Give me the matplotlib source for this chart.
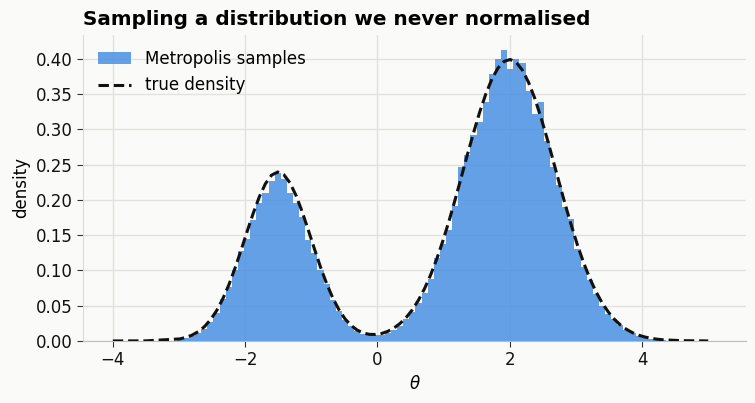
import numpy as np
import matplotlib.pyplot as plt
from matplotlib.patches import Patch
from matplotlib.lines import Line2D

# histogram of the Metropolis samples (density per bin)
hist_start = -3.034
bin_width = 0.0925
hist_heights = [
    0.002, 0.004, 0.007, 0.011, 0.017, 0.027, 0.040, 0.060, 0.076, 0.100,
    0.128, 0.145, 0.172, 0.195, 0.210, 0.227, 0.238, 0.229, 0.210, 0.195,
    0.176, 0.143, 0.124, 0.100, 0.080, 0.058, 0.043, 0.030, 0.021, 0.014,
    0.010, 0.008, 0.008, 0.009, 0.011, 0.015, 0.021, 0.031, 0.041, 0.054,
    0.068, 0.088, 0.117, 0.138, 0.157, 0.191, 0.247, 0.263, 0.292, 0.310,
    0.339, 0.378, 0.399, 0.413, 0.386, 0.400, 0.394, 0.354, 0.322, 0.338,
    0.284, 0.246, 0.221, 0.190, 0.173, 0.131, 0.105, 0.086, 0.066, 0.049,
    0.038, 0.031, 0.023, 0.016, 0.011, 0.007, 0.005, 0.003, 0.002, 0.001,
]

# true density, sampled at the bin centres plus the flat tails
dens_tail_left_x = [-4.0, -3.5]
dens_tail_left_y = [0.0000, 0.0001]
dens_mid_y = [
    0.0029, 0.0050, 0.0082, 0.0131, 0.0200, 0.0298, 0.0426, 0.0592, 0.0791, 0.1025,
    0.1282, 0.1551, 0.1809, 0.2043, 0.2229, 0.2350, 0.2394, 0.2356, 0.2242, 0.2060,
    0.1831, 0.1571, 0.1305, 0.1045, 0.0812, 0.0609, 0.0444, 0.0313, 0.0219, 0.0153,
    0.0112, 0.0093, 0.0092, 0.0106, 0.0136, 0.0183, 0.0248, 0.0333, 0.0441, 0.0578,
    0.0742, 0.0938, 0.1163, 0.1420, 0.1701, 0.2005, 0.2320, 0.2640, 0.2949, 0.3241,
    0.3498, 0.3711, 0.3868, 0.3962, 0.3989, 0.3945, 0.3836, 0.3663, 0.3440, 0.3172,
    0.2877, 0.2561, 0.2243, 0.1928, 0.1632, 0.1354, 0.1107, 0.0887, 0.0700, 0.0541,
    0.0413, 0.0308, 0.0227, 0.0164, 0.0116, 0.0081, 0.0056, 0.0037, 0.0025, 0.0016,
]
dens_tail_right_x = [4.6, 5.0]
dens_tail_right_y = [0.0004, 0.0000]

bg = '#fafaf8'
bar_color = '#4a90e2'

edges = hist_start + bin_width * np.arange(len(hist_heights) + 1)
centres = edges[:-1] + bin_width / 2
dens_x = np.concatenate([dens_tail_left_x, centres, dens_tail_right_x])
dens_y = np.concatenate([dens_tail_left_y, dens_mid_y, dens_tail_right_y])

fig = plt.figure(figsize=(7.55, 4.03), dpi=100, facecolor=bg)
ax = fig.add_axes([0.110, 0.154, 0.878, 0.759], facecolor=bg)

ax.bar(edges[:-1], hist_heights, width=bin_width, align='edge',
       color=bar_color, alpha=0.85, linewidth=0, zorder=2)
ax.plot(dens_x, dens_y, color='#111111', lw=2.2, ls=(0, (3.4, 1.6)), zorder=3)

ax.set_xlim(-4.45, 5.57)
ax.set_ylim(0, 0.4335)
ax.set_xticks([-4, -2, 0, 2, 4])
ax.set_xticklabels(['\u22124', '\u22122', '0', '2', '4'])
ax.set_yticks(np.arange(0, 0.41, 0.05))
ax.yaxis.set_major_formatter(plt.FormatStrFormatter('%.2f'))

ax.grid(True, color='#e2e1dd', lw=1.0, zorder=0)
ax.set_axisbelow(True)
for s in ['top', 'right']:
    ax.spines[s].set_visible(False)
ax.spines['left'].set_color('#dcdbd6')
ax.spines['bottom'].set_color('#bdbdbd')
ax.tick_params(axis='both', labelsize=12, length=4, color='#333333', labelcolor='#111111')

ax.set_xlabel(r'$\theta$', fontsize=12)
ax.set_ylabel('density', fontsize=12)
ax.set_title('Sampling a distribution we never normalised', loc='left',
             fontsize=14.4, fontweight='bold', pad=7)

handles = [Patch(facecolor=bar_color, alpha=0.85, label='Metropolis samples'),
           Line2D([0], [0], color='#111111', lw=2.2, ls=(0, (3.4, 1.6)), label='true density')]
ax.legend(handles=handles, loc='upper left', frameon=False, fontsize=12)

fig.savefig('out.png', dpi=100, facecolor=bg)
